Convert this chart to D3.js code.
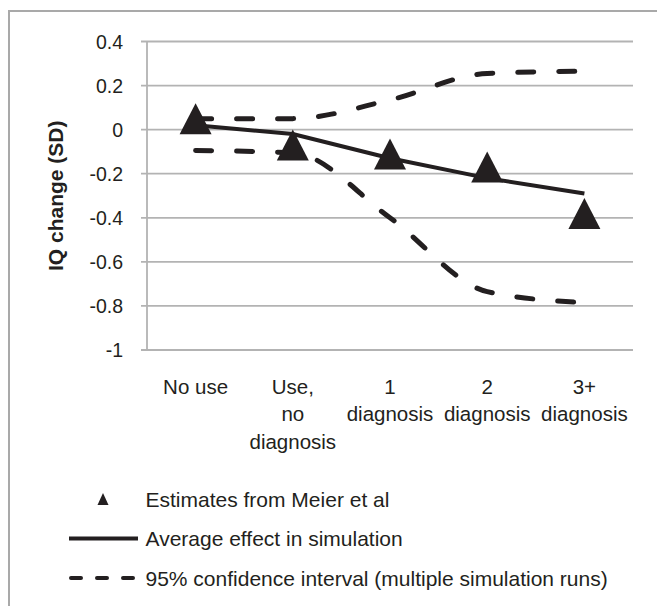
<!DOCTYPE html>
<html>
<head>
<meta charset="utf-8">
<script src="https://cdn.jsdelivr.net/npm/d3@7"></script>
<style>
  body { margin: 0; background: #fff; }
  text { font-family: "Liberation Sans", Arial, sans-serif; fill: #231f20; }
</style>
</head>
<body>
<svg id="chart" width="657" height="606"></svg>
<script>
// categories, one array of text lines per tick
const categories = [
  ['No use'],
  ['Use,', 'no', 'diagnosis'],
  ['1', 'diagnosis'],
  ['2', 'diagnosis'],
  ['3+', 'diagnosis']
];
const meierEstimates = [0.05, -0.07, -0.11, -0.17, -0.38];
const simAverage = [0.02, -0.02, -0.13, -0.22, -0.29];
const ciUpper = [0.05, 0.05, 0.135, 0.255, 0.265];
const ciLower = [-0.095, -0.105, -0.40, -0.735, -0.785];
const yTicks = [0.4, 0.2, 0, -0.2, -0.4, -0.6, -0.8, -1];
const legendLabels = [
  'Estimates from Meier et al',
  'Average effect in simulation',
  '95% confidence interval (multiple simulation runs)'
];

const svg = d3.select('#chart');
const ink = '#231f20';
const grey = '#b3b3b3';

// outer frame (runs off the right and bottom edge)
svg.append('rect')
    .attr('x', 9).attr('y', 11)
    .attr('width', 700).attr('height', 700)
    .attr('fill', 'none')
    .attr('stroke', '#a9a9a9')
    .attr('stroke-width', 2);

const plot = { left: 147, right: 633, top: 41.5, bottom: 350 };

let x = d3.scaleBand()
    .domain(d3.range(categories.length))
    .range([plot.left, plot.right]);

let y = d3.scaleLinear()
    .domain([-1, 0.4])
    .range([plot.bottom, plot.top]);

// gridlines
svg.append('g')
    .selectAll('line')
    .data(yTicks)
    .join('line')
    .attr('x1', plot.left - 6)
    .attr('x2', plot.right)
    .attr('y1', d => y(d))
    .attr('y2', d => y(d))
    .attr('stroke', grey)
    .attr('stroke-width', 1.8);

// left axis line
svg.append('line')
    .attr('x1', plot.left).attr('x2', plot.left)
    .attr('y1', plot.top).attr('y2', plot.bottom)
    .attr('stroke', grey)
    .attr('stroke-width', 1.8);

// tick labels
svg.append('g')
    .selectAll('text')
    .data(yTicks)
    .join('text')
    .attr('x', 123)
    .attr('y', d => y(d))
    .attr('dy', '0.36em')
    .attr('text-anchor', 'end')
    .style('font-size', '19.5px')
    .text(d => d3.format('')(d).replace('−', '-'));

// y title
svg.append('text')
    .attr('transform', 'translate(63,' + ((plot.top + plot.bottom) / 2) + ') rotate(-90)')
    .attr('text-anchor', 'middle')
    .style('font-size', '21px')
    .style('font-weight', 'bold')
    .text('IQ change (SD)');

// category labels
let catG = svg.append('g')
    .selectAll('text')
    .data(categories)
    .join('text')
    .attr('text-anchor', 'middle')
    .attr('x', (d, i) => x(i) + x.bandwidth() / 2)
    .attr('y', 393.5)
    .style('font-size', '20.5px');

catG.selectAll('tspan')
    .data(d => d)
    .join('tspan')
    .attr('x', function() { return d3.select(this.parentNode).attr('x'); })
    .attr('dy', (d, i) => i === 0 ? 0 : 27.5)
    .text(d => d);

const cx = i => x(i) + x.bandwidth() / 2;

let dashLine = d3.line()
    .x((d, i) => cx(i))
    .y(d => y(d))
    .curve(d3.curveMonotoneX);

let solidLine = d3.line()
    .x((d, i) => cx(i))
    .y(d => y(d));

[ciUpper, ciLower].forEach(series => {
    svg.append('path')
        .attr('d', dashLine(series))
        .attr('fill', 'none')
        .attr('stroke', ink)
        .attr('stroke-width', 5)
        .attr('stroke-linecap', 'round')
        .attr('stroke-dasharray', '16,25');
});

svg.append('path')
    .attr('d', solidLine(simAverage))
    .attr('fill', 'none')
    .attr('stroke', ink)
    .attr('stroke-width', 4);

// triangles, bounding box centred on the value
const triW = 32, triH = 31;
const triPath = (px, py, w, h) =>
    'M' + px + ',' + (py - h / 2) + 'L' + (px + w / 2) + ',' + (py + h / 2) +
    'L' + (px - w / 2) + ',' + (py + h / 2) + 'Z';

svg.append('g')
    .selectAll('path')
    .data(meierEstimates)
    .join('path')
    .attr('d', (d, i) => triPath(cx(i), y(d), triW, triH))
    .attr('fill', ink);

// legend
const legendY = [499, 538.5, 578];
let legend = svg.append('g');

legend.append('path')
    .attr('d', triPath(103, legendY[0], 11, 12))
    .attr('fill', ink);

legend.append('line')
    .attr('x1', 69).attr('x2', 138)
    .attr('y1', legendY[1]).attr('y2', legendY[1])
    .attr('stroke', ink)
    .attr('stroke-width', 4);

legend.append('line')
    .attr('x1', 71).attr('x2', 133)
    .attr('y1', legendY[2]).attr('y2', legendY[2])
    .attr('stroke', ink)
    .attr('stroke-width', 4)
    .attr('stroke-linecap', 'round')
    .attr('stroke-dasharray', '10,16');

legend.selectAll('text')
    .data(legendLabels)
    .join('text')
    .attr('x', 145.5)
    .attr('y', (d, i) => legendY[i])
    .attr('dy', '0.36em')
    .style('font-size', '21px')
    .text(d => d);
</script>
</body>
</html>
